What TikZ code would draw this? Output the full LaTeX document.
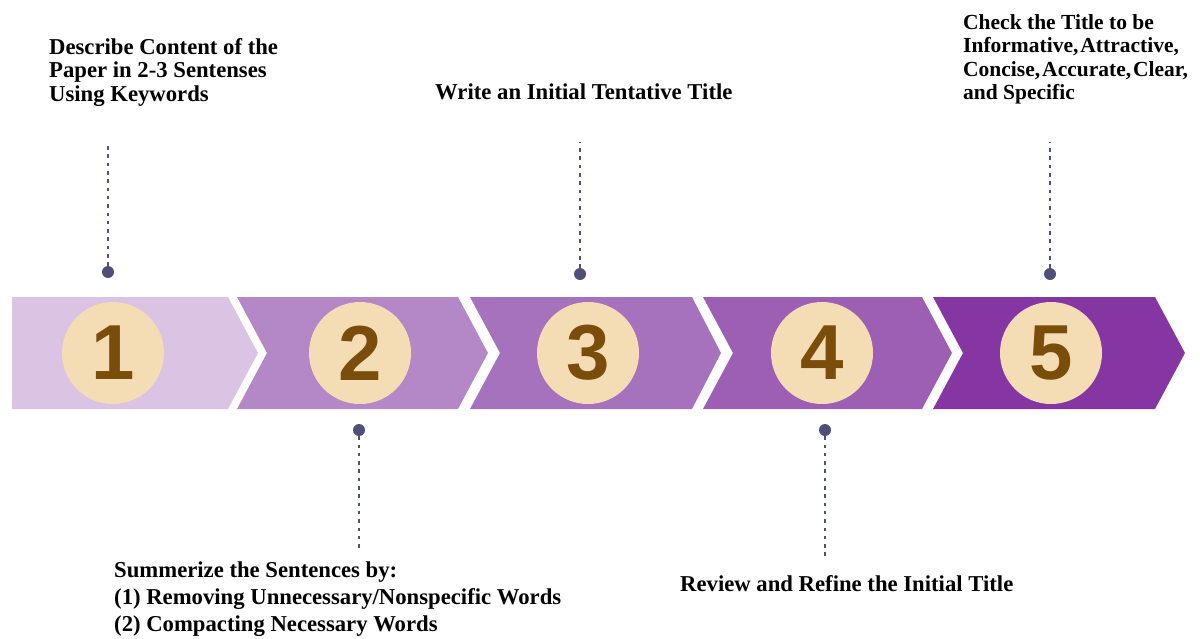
\documentclass[tikz,border=0pt]{standalone}
\usepackage{fontspec}
\setmainfont{Liberation Serif}
\newfontfamily\digitfont{Liberation Sans}
\definecolor{cA}{HTML}{DBC3E3}
\definecolor{cB}{HTML}{B487C6}
\definecolor{cC}{HTML}{A672BD}
\definecolor{cD}{HTML}{9C5FB4}
\definecolor{cE}{HTML}{8536A2}
\definecolor{circfill}{HTML}{F4DDB5}
\definecolor{digitcol}{HTML}{7A4D0A}
\definecolor{dotcol}{HTML}{4F4F7E}
\tikzset{
  chev/.style={draw=none},
  numcirc/.style={circle, fill=circfill, minimum size=102pt, inner sep=0pt,
     text=digitcol, font=\digitfont\bfseries\fontsize{78}{78}\selectfont},
  pin/.style={circle, fill=dotcol, minimum size=12pt, inner sep=0pt},
  lead/.style={draw=dotcol, line width=2.6pt, dash pattern=on 3.5pt off 4.8pt},
  lbl/.style={anchor=north west, inner sep=0pt, align=left,
     font=\bfseries\fontsize{22.7}{23.5}\selectfont}
}
\begin{document}
\begin{tikzpicture}[x=1pt,y=-1pt]
\useasboundingbox (0,0) rectangle (1200,638);
% chevrons
\fill[cA] (12,297) -- (228,297) -- (258,353) -- (228,409) -- (12,409) -- cycle;
\fill[cB] (237,297) -- (458,297) -- (488,353) -- (458,409) -- (237,409) -- (267,353) -- cycle;
\fill[cC] (470,297) -- (692,297) -- (721,353) -- (692,409) -- (470,409) -- (500,353) -- cycle;
\fill[cD] (703,297) -- (922,297) -- (952,353) -- (922,409) -- (703,409) -- (733,353) -- cycle;
\fill[cE] (933,297) -- (1155,297) -- (1185,353) -- (1155,409) -- (933,409) -- (963,353) -- cycle;
% circles
\node[numcirc] (n1) at (113,353) {1};
\node[numcirc] (n2) at (360,353) {2};
\node[numcirc] (n3) at (588,353) {3};
\node[numcirc] (n4) at (822,353) {4};
\node[numcirc] (n5) at (1051,353) {5};
% pins
\node[pin] (p1) at (108,272) {};
\node[pin] (p2) at (359,430) {};
\node[pin] (p3) at (580,274) {};
\node[pin] (p4) at (825,430) {};
\node[pin] (p5) at (1050,274) {};
\coordinate (e1) at (108,145);
\coordinate (e2) at (359,548);
\coordinate (e3) at (580,142);
\coordinate (e4) at (825,557);
\coordinate (e5) at (1050,142);
\draw[lead] (p1) -- (e1);
\draw[lead] (p2) -- (e2);
\draw[lead] (p3) -- (e3);
\draw[lead] (p4) -- (e4);
\draw[lead] (p5) -- (e5);
% labels
\node[lbl] (t1) at (49,38) {Describe Content of the\\Paper in 2-3 Sentenses\\Using Keywords};
\node[lbl] (t3) at (435,84) {Write an Initial Tentative Title};
\node[lbl, font=\bfseries\fontsize{21.5}{23.5}\selectfont] (t5) at (963,14) {Check the Title to be\\Informative,\hspace{2pt}Attractive,\\Concise,\hspace{2pt}Accurate,\hspace{2pt}Clear,\\and Specific};
\node[lbl, font=\bfseries\fontsize{22.7}{27}\selectfont] (t2) at (114,562) {Summerize the Sentences by:\\(1) Removing Unnecessary/Nonspecific Words\\(2) Compacting Necessary Words};
\node[lbl] (t4) at (680,575) {Review and Refine the Initial Title};
\end{tikzpicture}
\end{document}
